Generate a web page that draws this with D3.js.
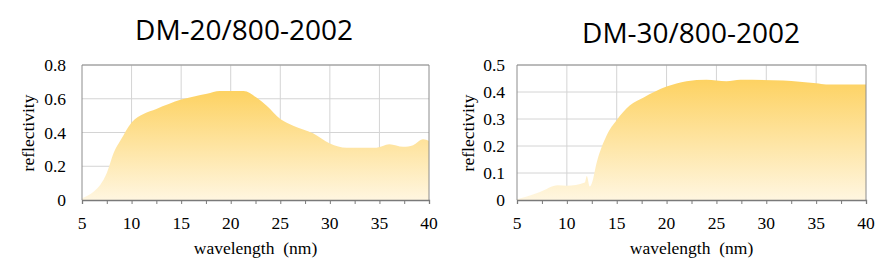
<!DOCTYPE html>
<html>
<head>
<meta charset="utf-8">
<script src="https://cdn.jsdelivr.net/npm/d3@7"></script>
<style>
  body { margin: 0; background: #fff; }
  svg { display: block; }
</style>
</head>
<body>
<div id="chart"></div>
<script>
const width = 890;
const height = 275;

// wavelength (nm) / reflectivity
const wl20 = [5, 6.2, 6.85, 7.5, 8.2, 8.9, 10, 11.2, 12.5, 15, 17.6, 18.9, 21.3, 22.6, 23.6, 25, 26.3, 28.3, 30, 31.7, 34.7, 36, 37.4, 38.4, 39.4, 40];
const refl20 = [0.01, 0.05, 0.09, 0.16, 0.28, 0.355, 0.46, 0.51, 0.54, 0.595, 0.63, 0.646, 0.646, 0.607, 0.56, 0.48, 0.44, 0.395, 0.335, 0.31, 0.31, 0.33, 0.315, 0.325, 0.36, 0.35];

const wl30 = [5, 5.9, 7.3, 9.1, 10, 11.8, 12.0, 12.3, 12.5, 13, 14, 15, 16.3, 17.7, 20, 22, 24, 26, 27.4, 31.7, 35, 36, 40];
const refl30 = [0.003, 0.012, 0.03, 0.055, 0.053, 0.065, 0.089, 0.05, 0.062, 0.14, 0.24, 0.296, 0.35, 0.38, 0.42, 0.44, 0.445, 0.44, 0.445, 0.443, 0.432, 0.428, 0.428];

const xTicks = [5, 10, 15, 20, 25, 30, 35, 40];
const yTicks20 = [0, 0.2, 0.4, 0.6, 0.8];
const yTicks30 = [0, 0.1, 0.2, 0.3, 0.4, 0.5];

const charts = [
    { title: "DM-20/800-2002", x: wl20, y: refl20, yTicks: yTicks20, yMax: 0.8,
      left: 82, right: 429, titleX: 244, titleY: 40, labelX: 28, tickGap: 16 },
    { title: "DM-30/800-2002", x: wl30, y: refl30, yTicks: yTicks30, yMax: 0.5,
      left: 517, right: 866, titleX: 691, titleY: 43, labelX: 468, tickGap: 12 }
];

const plotTop = 65, plotBottom = 200;
const serif = "'Liberation Serif', 'Times New Roman', serif";
const fs = 17.5;

const svg = d3.select("#chart")
    .append("svg")
    .attr("width", width)
    .attr("height", height);

const defs = svg.append("defs");

charts.forEach((c, i) => {
    const x = d3.scaleLinear().domain([5, 40]).range([c.left, c.right]);
    const y = d3.scaleLinear().domain([0, c.yMax]).range([plotBottom, plotTop]);

    const grad = defs.append("linearGradient")
        .attr("id", "fill" + i)
        .attr("x1", 0).attr("y1", 0).attr("x2", 0).attr("y2", 1);
    grad.append("stop").attr("offset", "0%").attr("stop-color", "#fdd262");
    grad.append("stop").attr("offset", "100%").attr("stop-color", "#fff6e0");

    const g = svg.append("g");

    // gridlines
    g.append("g")
        .selectAll("line")
        .data(c.yTicks.slice(1))
        .join("line")
        .attr("x1", c.left).attr("x2", c.right)
        .attr("y1", d => y(d)).attr("y2", d => y(d))
        .attr("stroke", "#d4d4d4");

    g.append("g")
        .selectAll("line")
        .data(xTicks.slice(1, -1))
        .join("line")
        .attr("x1", d => x(d)).attr("x2", d => x(d))
        .attr("y1", plotTop).attr("y2", plotBottom)
        .attr("stroke", "#d4d4d4");

    // area
    const pts = c.x.map((v, k) => [v, c.y[k]]);
    const area = d3.area()
        .x(d => x(d[0]))
        .y0(y(0))
        .y1(d => y(d[1]))
        .curve(d3.curveMonotoneX);

    g.append("path")
        .datum(pts)
        .attr("d", area)
        .attr("fill", `url(#fill${i})`);

    // frame
    g.append("path")
        .attr("d", `M${c.left},${plotBottom}V${plotTop}H${c.right}V${plotBottom}`)
        .attr("fill", "none")
        .attr("stroke", "#8c8c8c");

    // x axis
    const xAxis = d3.axisBottom(x)
        .tickValues(d3.range(5, 40.1, 2.5))
        .tickSize(4)
        .tickFormat("");
    const xa = g.append("g")
        .attr("transform", `translate(0,${plotBottom})`)
        .call(xAxis);
    xa.selectAll("path, line").attr("stroke", "#7a7a7a");
    xa.select(".domain").attr("stroke-width", 1.3);

    g.append("g")
        .selectAll("text")
        .data(xTicks)
        .join("text")
        .attr("x", d => x(d))
        .attr("y", 229)
        .attr("text-anchor", "middle")
        .attr("font-family", serif)
        .attr("font-size", fs)
        .text(d => d);

    // y labels
    g.append("g")
        .selectAll("text")
        .data(c.yTicks)
        .join("text")
        .attr("x", c.left - c.tickGap)
        .attr("y", d => y(d))
        .attr("dy", "0.35em")
        .attr("text-anchor", "end")
        .attr("font-family", serif)
        .attr("font-size", fs)
        .text(d => d);

    g.append("text")
        .attr("x", (c.left + c.right) / 2)
        .attr("y", 254)
        .attr("text-anchor", "middle")
        .attr("font-family", serif)
        .attr("font-size", fs)
        .attr("xml:space", "preserve")
        .text("wavelength  (nm)");

    g.append("text")
        .attr("transform", `translate(${c.labelX},133) rotate(-90)`)
        .attr("text-anchor", "middle")
        .attr("dy", "0.35em")
        .attr("font-family", serif)
        .attr("font-size", fs)
        .text("reflectivity");

    g.append("text")
        .attr("x", c.titleX)
        .attr("y", c.titleY)
        .attr("text-anchor", "middle")
        .attr("font-family", "'Open Sans', 'Noto Sans', sans-serif")
        .attr("font-size", 28)
        .text(c.title);
});
</script>
</body>
</html>
